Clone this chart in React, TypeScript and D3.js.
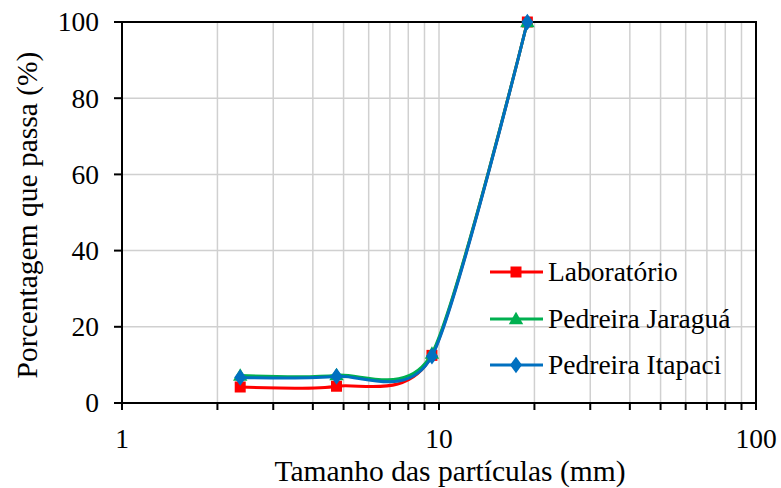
import React from "react";
import * as d3 from "d3";

const sizes = [2.36, 4.75, 9.5, 19];
const laboratorio = [4.2, 4.4, 12.5, 100];
const jaragua = [7.2, 7.3, 13.0, 100];
const itapaci = [6.7, 7.0, 12.3, 100];
const seriesNames = ["Laboratório", "Pedreira Jaraguá", "Pedreira Itapaci"];
const seriesColors = ["#FF0000", "#00B050", "#0070C0"];
const seriesMarkers = ["square", "triangle", "diamond"];
const yTicks = [0, 20, 40, 60, 80, 100];
const xMajor = [1, 10, 100];

const W = 781, H = 488;
const L = 122, R = 756, T = 22, B = 403;
const FONT = "Liberation Serif";
const FS = 27.5;
const FT = 29.5;

function Marker({ type, x, y, color }: { type: string; x: number; y: number; color: string }) {
  if (type === "square") return <rect x={x - 5.5} y={y - 5.5} width={11} height={11} fill={color} />;
  if (type === "triangle") {
    const p = d3.symbol(d3.symbolTriangle, 90)();
    return <path d={p || ""} transform={`translate(${x},${y + 1})`} fill={color} />;
  }
  const p = d3.symbol(d3.symbolDiamond, 80)();
  return <path d={p || ""} transform={`translate(${x},${y}) scale(1.25,1)`} fill={color} />;
}

export default function App() {
  const x = d3.scaleLog().domain([1, 100]).range([L, R]);
  const y = d3.scaleLinear().domain([0, 100]).range([B, T]);
  const minor: number[] = [];
  for (const dec of [1, 10]) for (let k = 2; k <= 9; k++) minor.push(dec * k);
  const allSeries = [laboratorio, jaragua, itapaci];
  const line = d3
    .line<number>()
    .x((_, i) => x(sizes[i]))
    .y((d) => y(d))
    .curve(d3.curveCardinal.tension(0.25));
  const legendY = [272, 319, 365];
  const txt = { fontFamily: FONT, fontSize: FS, fill: "#000" } as React.CSSProperties;
  const ttl = { fontFamily: FONT, fontSize: FT, fill: "#000" } as React.CSSProperties;
  return (
    <svg width={W} height={H} style={{ position: "absolute", left: 0, top: 0, background: "#fff" }}>
      <rect x={0} y={0} width={W} height={H} fill="#fff" />
      {[...minor, 10].map((v) => (
        <line key={"gx" + v} x1={x(v)} x2={x(v)} y1={T} y2={B} stroke="#d0d0d0" strokeWidth={1.5} />
      ))}
      {yTicks.slice(1, -1).map((v) => (
        <line key={"gy" + v} x1={L} x2={R} y1={y(v)} y2={y(v)} stroke="#d0d0d0" strokeWidth={1.5} />
      ))}
      <rect x={L} y={T} width={R - L} height={B - T} fill="none" stroke="#000" strokeWidth={2} />
      {yTicks.map((v) => (
        <g key={"yt" + v}>
          <line x1={L - 8} x2={L} y1={y(v)} y2={y(v)} stroke="#000" strokeWidth={2} />
          <text x={99} y={y(v)} dy="0.34em" textAnchor="end" style={txt}>
            {v}
          </text>
        </g>
      ))}
      {[...xMajor, ...minor].map((v) => (
        <line key={"xt" + v} x1={x(v)} x2={x(v)} y1={B} y2={B + 7} stroke="#000" strokeWidth={2} />
      ))}
      {xMajor.map((v) => (
        <text key={"xl" + v} x={x(v)} y={448} textAnchor="middle" style={txt}>
          {v}
        </text>
      ))}
      <text x={450} y={481} textAnchor="middle" style={ttl}>
        Tamanho das partículas (mm)
      </text>
      <text transform={`translate(37,215) rotate(-90)`} textAnchor="middle" style={ttl}>
        Porcentagem que passa (%)
      </text>
      {allSeries.map((s, si) => (
        <g key={"s" + si}>
          <path d={line(s) || ""} fill="none" stroke={seriesColors[si]} strokeWidth={3} />
          {s.map((v, i) => (
            <Marker key={i} type={seriesMarkers[si]} x={x(sizes[i])} y={y(v)} color={seriesColors[si]} />
          ))}
        </g>
      ))}
      {seriesNames.map((n, i) => (
        <g key={"lg" + i}>
          <line x1={490} x2={543} y1={legendY[i]} y2={legendY[i]} stroke={seriesColors[i]} strokeWidth={3} />
          <Marker type={seriesMarkers[i]} x={516} y={legendY[i]} color={seriesColors[i]} />
          <text x={548} y={legendY[i]} dy="0.34em" style={txt}>
            {n}
          </text>
        </g>
      ))}
    </svg>
  );
}
